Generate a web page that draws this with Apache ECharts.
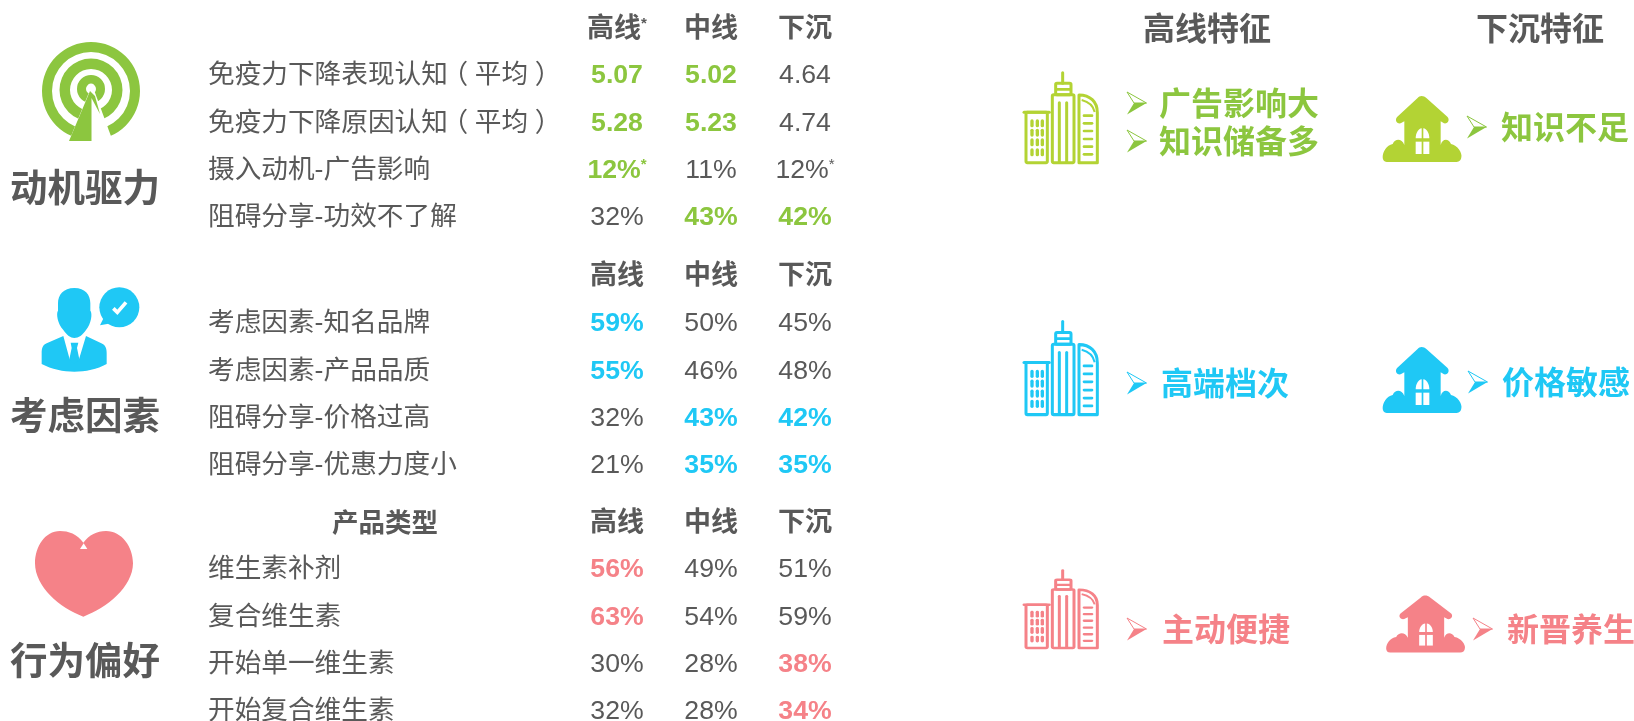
<!DOCTYPE html>
<html lang="zh">
<head>
    <meta charset="UTF-8" />
    <title>高线 中线 下沉</title>
    <script src="https://cdn.jsdelivr.net/npm/echarts@6/dist/echarts.min.js"></script>
    <style>
        html, body { margin: 0; padding: 0; background: #fff; }
        #main { width: 1634px; height: 721px; }
    </style>
</head>
<body>
    <div id="main"></div>
    <script type="text/javascript">
        // 数据
        const motiveColumns = ['高线*', '中线', '下沉'];
        const motiveRows = ['免疫力下降表现认知（平均）', '免疫力下降原因认知（平均）', '摄入动机-广告影响', '阻碍分享-功效不了解'];
        const motiveValues = [['5.07', '5.02', '4.64'], ['5.28', '5.23', '4.74'], ['12%*', '11%', '12%*'], ['32%', '43%', '42%']];
        const motiveStrong = [[1, 1, 0], [1, 1, 0], [1, 0, 0], [0, 1, 1]];

        const considerColumns = ['高线', '中线', '下沉'];
        const considerRows = ['考虑因素-知名品牌', '考虑因素-产品品质', '阻碍分享-价格过高', '阻碍分享-优惠力度小'];
        const considerValues = [['59%', '50%', '45%'], ['55%', '46%', '48%'], ['32%', '43%', '42%'], ['21%', '35%', '35%']];
        const considerStrong = [[1, 0, 0], [1, 0, 0], [0, 1, 1], [0, 1, 1]];

        const behaviorColumns = ['高线', '中线', '下沉'];
        const behaviorRows = ['维生素补剂', '复合维生素', '开始单一维生素', '开始复合维生素'];
        const behaviorValues = [['56%', '49%', '51%'], ['63%', '54%', '59%'], ['30%', '28%', '38%'], ['32%', '28%', '34%']];
        const behaviorStrong = [[1, 0, 0], [1, 0, 0], [0, 0, 1], [0, 0, 1]];

        const sectionNames = ['动机驱力', '考虑因素', '行为偏好'];
        const featureHeads = ['高线特征', '下沉特征'];
        const highFeatures = [['广告影响大', '知识储备多'], ['高端档次'], ['主动便捷']];
        const lowFeatures = [['知识不足'], ['价格敏感'], ['新晋养生']];

        const GREY = '#595959';
        const GREEN = '#8CC63F';
        const LIME = '#B3D334';
        const BLUE = '#1FC8F5';
        const PINK = '#F58288';
        const FONT = '"Liberation Sans","Noto Sans CJK SC",sans-serif';

        var myChart = echarts.init(document.getElementById('main'), null, { renderer: 'canvas' });

        // 三张小表，每张一个 grid。第一行贴 grid 顶，最后一行贴底
        const tables = [
            { cols: motiveColumns, rows: motiveRows, vals: motiveValues, strong: motiveStrong, color: GREEN, top: 76, headMargin: 32.5 },
            { cols: considerColumns, rows: considerRows, vals: considerValues, strong: considerStrong, color: BLUE, top: 324, headMargin: 33.5 },
            { cols: behaviorColumns, rows: behaviorRows, vals: behaviorValues, strong: behaviorStrong, color: PINK, top: 570, headMargin: 32.5 }
        ];
        const grids = [], xAxes = [], yAxes = [], series = [];
        tables.forEach(function (t, i) {
            // v6 默认会把 grid 压缩到画布内，第三张最后一行本来就出界
            grids.push({ left: 570, width: 282, top: t.top, height: 142, outerBoundsMode: 'none' });
            xAxes.push({
                type: 'category', gridIndex: i, position: 'top', data: t.cols,
                axisLine: { show: false }, axisTick: { show: false }, splitLine: { show: false },
                axisLabel: {
                    margin: t.headMargin, fontFamily: FONT, fontSize: 27, fontWeight: 'bold', color: GREY, interval: 0,
                    formatter: function (v) { return v.replace('*', '{s|*}'); },
                    rich: { s: { fontSize: 15, fontWeight: 'bold', color: GREY, verticalAlign: 'top' } }
                }
            });
            yAxes.push({
                type: 'category', gridIndex: i, inverse: true, boundaryGap: false, data: t.rows,
                axisLine: { show: false }, axisTick: { show: false }, splitLine: { show: false },
                axisLabel: {
                    align: 'left', margin: 362, fontFamily: FONT, fontSize: 26.67, color: GREY, interval: 0,
                    // 原图的全角括号在字框内居中，这里把括号左右各挪一点
                    formatter: function (v) { return v.replace(/^(.*)（(.*)）$/, '{a|$1}{b|（}$2{c|）}'); },
                    rich: {
                        a: { width: 233.4 },
                        b: { padding: [0, 6.7, 0, 0] },
                        c: { padding: [0, 0, 0, 6.7] }
                    }
                }
            });
            const data = [];
            t.vals.forEach(function (row, r) {
                row.forEach(function (v, c) {
                    const on = t.strong[r][c];
                    data.push({
                        value: [c, r, v],
                        label: { color: on ? t.color : GREY, fontWeight: on ? 'bold' : 'normal' }
                    });
                });
            });
            series.push({
                type: 'scatter', xAxisIndex: i, yAxisIndex: i, symbolSize: 1, silent: true, clip: false,
                itemStyle: { color: 'transparent', opacity: 1 }, data: data,
                label: {
                    show: true, position: 'inside', opacity: 1, fontFamily: FONT, fontSize: 26.67,
                    formatter: function (p) { return p.value[2].replace('*', '{s|*}'); },
                    rich: { s: { fontSize: 15, verticalAlign: 'top' } }
                }
            });
        });

        // 图标
        function shape(type, sh, style) { return { type: type, shape: sh, style: style }; }
        function p(d, fill) { return shape('path', { pathData: d }, { fill: fill }); }
        function line(x1, y1, x2, y2, w, c) {
            return shape('line', { x1: x1, y1: y1, x2: x2, y2: y2 }, { stroke: c, lineWidth: w, lineCap: 'round' });
        }
        function box(x, y, w, h, lw, c) {
            return shape('rect', { x: x, y: y, width: w, height: h, r: 4 }, { fill: 'none', stroke: c, lineWidth: lw });
        }

        function targetIcon() {
            const c = GREEN;
            return {
                type: 'group', x: 0, y: 0, children: [
                    shape('ring', { cx: 91, cy: 91, r: 49, r0: 39 }, { fill: c }),
                    shape('ring', { cx: 91, cy: 90, r: 31.5, r0: 21 }, { fill: c }),
                    shape('ring', { cx: 91, cy: 89, r: 14, r0: 5 }, { fill: c }),
                    p('M90 90 L62 158 L119 158 L94 90 Z', '#fff'),
                    p('M90 91 L69 141 L91.5 141 L91.5 98 L100 114 L95 96 Z', c),
                    shape('circle', { cx: 91, cy: 87, r: 3.5 }, { fill: '#fff' })
                ]
            };
        }
        function personIcon() {
            const c = BLUE;
            return {
                type: 'group', x: 0, y: 260, scaleX: 1 / 3, scaleY: 1 / 3, children: [
                    p('M223 84 C190 84 174 105 174 130 L174 152 C168 160 172 190 190 210 C200 225 212 234 223 234 C236 234 248 225 258 210 C274 190 278 160 271 152 L271 130 C271 105 256 84 223 84 Z', c),
                    p('M190 228 L140 250 C128 255 125 265 125 280 L125 312 C155 328 190 335 223 335 C256 335 292 328 320 312 L320 280 C320 265 316 255 304 250 L258 228 L237 298 L209 298 Z', c),
                    p('M212 248 L235 248 L231 264 L238 298 L222 312 L208 298 L215 264 Z', c),
                    shape('circle', { cx: 358, cy: 142, r: 60 }, { fill: c }),
                    p('M312 172 L300 196 L334 190 Z', c),
                    shape('polyline', { points: [[340, 145], [352, 157], [378, 127]] }, { fill: 'none', stroke: '#fff', lineWidth: 11 })
                ]
            };
        }
        function heartIcon() {
            return {
                type: 'group', x: 0, y: 490, scaleX: 1 / 3, scaleY: 1 / 3, children: [
                    p('M250 158 C232 132 205 123 180 123 C135 123 105 170 105 220 C105 290 180 355 250 380 C320 355 399 290 399 220 C399 170 365 123 318 123 C290 123 268 135 250 158 Z', PINK),
                    p('M251 160 L240 177 L262 177 Z', '#fff')
                ]
            };
        }
        function cityIcon(c, y, sy) {
            const kids = [
                line(188, 68, 188, 100, 9, c),
                box(167, 100, 46, 34, 9, c),
                line(170, 118, 210, 118, 8, c),
                box(157, 134, 65, 204, 9, c),
                line(178, 158, 178, 336, 9, c),
                line(200, 158, 200, 336, 9, c),
                line(72, 187, 148, 187, 9, c),
                box(78, 187, 64, 151, 9, c)
            ];
            kids.push(shape('path', { pathData: 'M237 338 L237 135 C270 135 292 155 292 188 L292 338 Z' }, { fill: 'none', stroke: c, lineWidth: 9, lineJoin: 'round' }));
            kids.push(shape('path', { pathData: 'M245 150 C265 155 280 168 284 186' }, { fill: 'none', stroke: c, lineWidth: 6 }));
            [197, 220, 243, 267, 290, 313].forEach(function (by) { kids.push(line(252, by, 276, by, 8, c)); });
            [96, 112, 127].forEach(function (wx) {
                [220, 248, 277, 307].forEach(function (wy) {
                    kids.push(shape('rect', { x: wx - 5, y: wy - 12, width: 10, height: 24, r: 5 }, { fill: c }));
                });
            });
            return { type: 'group', x: 1000, y: y, scaleX: 1 / 3, scaleY: sy, children: kids };
        }
        function houseIcon(c, x, y, sy) {
            return {
                type: 'group', x: x, y: y, scaleX: 1 / 3, scaleY: sy, children: [
                    p('M155 78 C160 78 165 80 170 85 L232 140 C240 148 235 162 222 160 L212 154 L212 225 C218 205 235 205 243 222 C262 225 278 250 274 262 C274 270 268 276 260 276 L50 276 C42 276 38 270 38 262 C38 245 50 225 68 222 C76 205 95 205 103 225 L103 154 L92 160 C78 162 74 148 82 140 L142 85 C146 80 150 78 155 78 Z', c),
                    p('M137 205 C137 190 145 176 155 175 L155 205 Z', '#fff'),
                    p('M160 175 C170 176 178 190 178 205 L160 205 Z', '#fff'),
                    shape('rect', { x: 137, y: 215, width: 18, height: 37 }, { fill: '#fff' }),
                    shape('rect', { x: 160, y: 215, width: 18, height: 37 }, { fill: '#fff' })
                ]
            };
        }
        function arrowIcon(c, x, y) {
            return {
                type: 'group', x: x, y: y, children: [
                    shape('path', { pathData: 'M19.5 0 L0 -11 L7 0 Z' }, { fill: '#fff', stroke: c, lineWidth: 1 }),
                    p('M19.5 0 L7 0 L0 11.5 Z', c)
                ]
            };
        }
        function text(str, x, y, size, color, align) {
            return {
                type: 'text', x: x, y: y,
                style: {
                    text: str, fontFamily: FONT, fontSize: size, fontWeight: 'bold', fill: color,
                    align: align || 'left', verticalAlign: 'middle'
                }
            };
        }

        const graphics = [
            targetIcon(), personIcon(), heartIcon(),
            cityIcon(LIME, 50, 1 / 3), cityIcon(BLUE, 298, 0.345), cityIcon(PINK, 551, 0.287),
            houseIcon(LIME, 1370, 70, 1 / 3), houseIcon(BLUE, 1370, 321, 1 / 3), houseIcon(PINK, 1373.5, 573, 0.288),
            text(sectionNames[0], 10, 191, 37.5, GREY),
            text(sectionNames[1], 10, 419, 37.5, GREY),
            text(sectionNames[2], 10, 663.5, 37.5, GREY),
            text('产品类型', 385, 525, 26.5, GREY, 'center'),
            text(featureHeads[0], 1143, 31, 32, GREY),
            text(featureHeads[1], 1476, 31, 32, GREY)
        ];

        const colours = [GREEN, BLUE, PINK];
        const highY = [[103, 141], [383], [629]];
        const highX = [1159, 1161, 1162];
        const lowY = [127, 382, 629];
        const lowX = [1501, 1502, 1507];
        const lowArrowX = [1467, 1468, 1473];
        highFeatures.forEach(function (list, i) {
            list.forEach(function (s, j) {
                graphics.push(arrowIcon(colours[i], 1127, highY[i][j]));
                graphics.push(text(s, highX[i], highY[i][j] + 3, 32, colours[i]));
            });
        });
        lowFeatures.forEach(function (list, i) {
            graphics.push(arrowIcon(colours[i], lowArrowX[i], lowY[i]));
            graphics.push(text(list[0], lowX[i], lowY[i] + 3, 32, colours[i]));
        });

        // 图标和文字放在一个 custom series 里，graphic 组件没有 path
        series.push({
            type: 'custom', coordinateSystem: 'none', silent: true, data: [0],
            renderItem: function () { return { type: 'group', children: graphics }; }
        });

        myChart.setOption({
            animation: false,
            backgroundColor: '#fff',
            grid: grids,
            xAxis: xAxes,
            yAxis: yAxes,
            series: series
        });
    </script>
</body>
</html>
